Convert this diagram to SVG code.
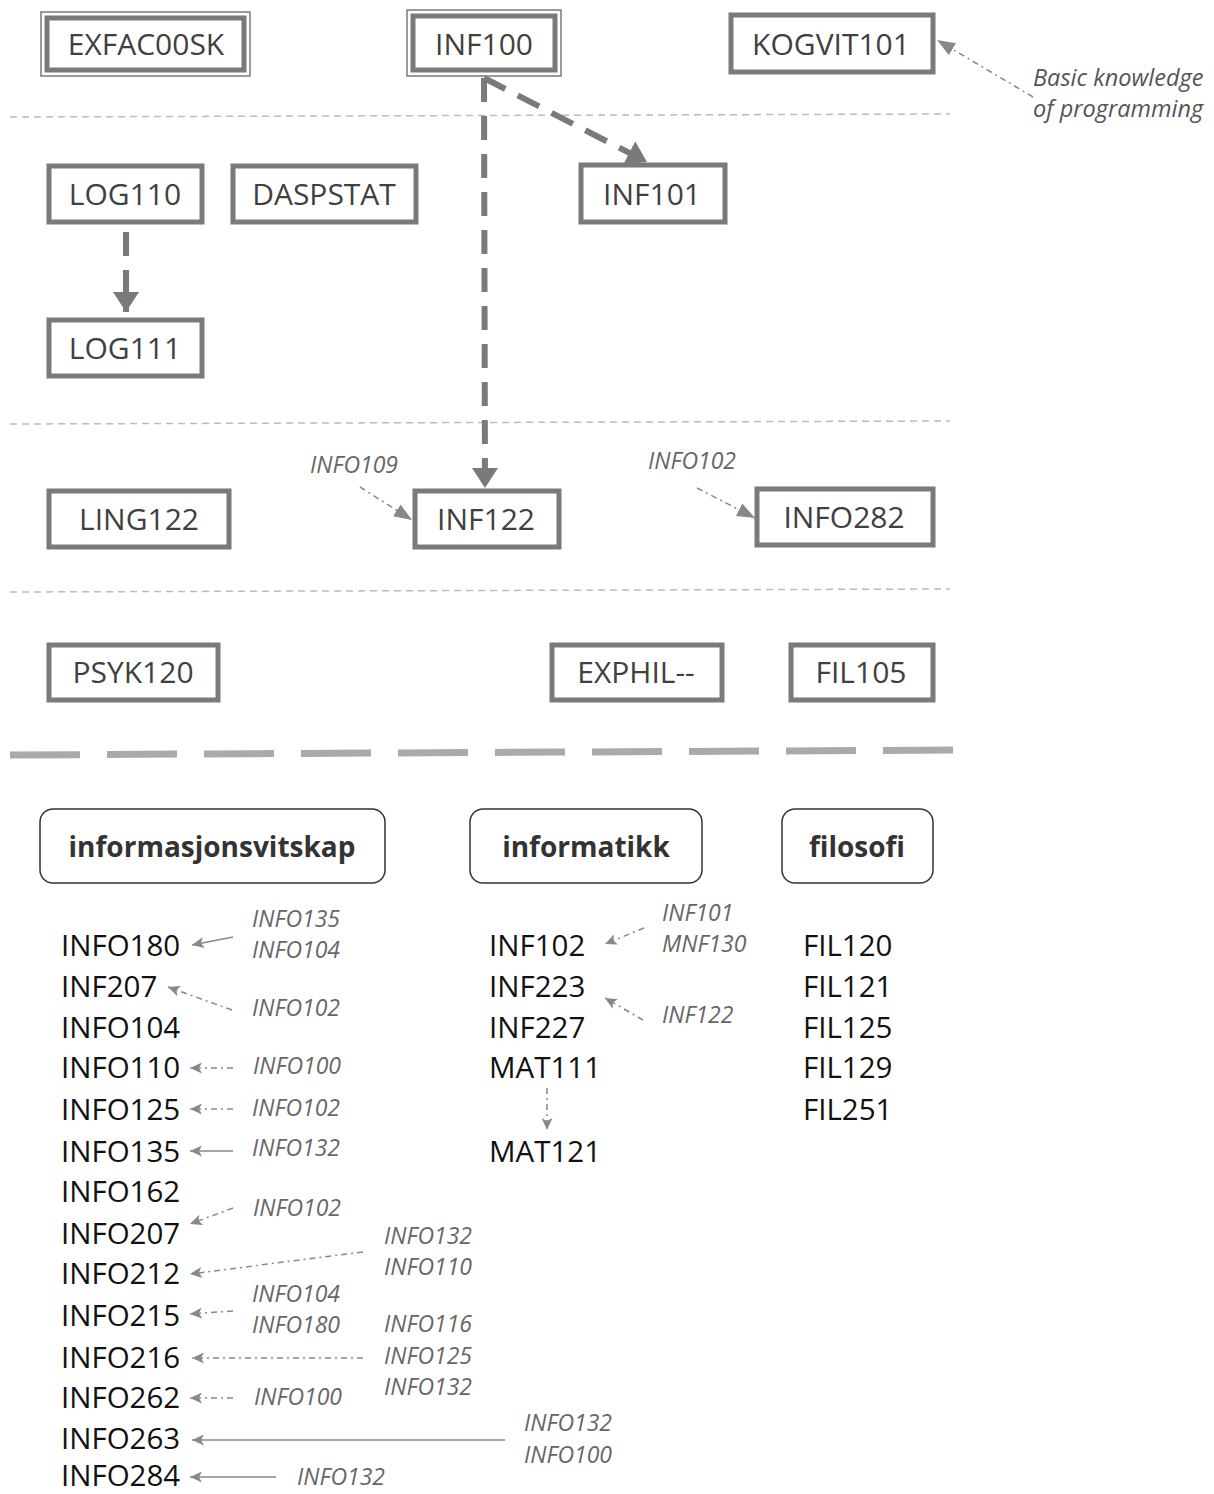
<svg xmlns="http://www.w3.org/2000/svg" width="1214" height="1494" viewBox="0 0 1214 1494">
<defs>
<style>
.box{fill:#fff;stroke:#7a7a7a;stroke-width:5}
.outer{fill:none;stroke:#7a7a7a;stroke-width:1.5}
.bt{font-family:"Open Sans","Liberation Sans",sans-serif;font-size:30px;fill:#404040;text-anchor:middle}
.cat{fill:#fff;stroke:#333;stroke-width:1.5}
.ct{font-family:"Open Sans","Liberation Sans",sans-serif;font-size:28px;font-weight:bold;fill:#333;text-anchor:middle}
.li{font-family:"Open Sans","Liberation Sans",sans-serif;font-size:29.5px;fill:#111}
.lb{font-family:"Open Sans","Liberation Sans",sans-serif;font-size:23px;font-style:italic;fill:#666}
.nb{font-family:"Open Sans","Liberation Sans",sans-serif;font-size:23.5px;font-style:italic;fill:#555}
.sep{stroke:#bbb;stroke-width:1.5;stroke-dasharray:7 5;fill:none}
.thick{stroke:#7a7a7a;stroke-width:6;fill:none;stroke-dasharray:24 14}
.dd{stroke:#888;stroke-width:1.5;fill:none;stroke-dasharray:6 4 2 4}
.sol{stroke:#888;stroke-width:1.5;fill:none}
</style>
<marker id="big" viewBox="0 0 20 26" refX="20" refY="13" markerWidth="20" markerHeight="26" markerUnits="userSpaceOnUse" orient="auto"><path d="M0,0 L20,13 L0,26 z" fill="#7a7a7a"/></marker>
<marker id="med" viewBox="0 0 18 14" refX="18" refY="7" markerWidth="18" markerHeight="14" markerUnits="userSpaceOnUse" orient="auto"><path d="M0,0 L18,7 L0,14 z" fill="#888"/></marker>
<marker id="sm" viewBox="0 0 12 11" refX="12" refY="5.5" markerWidth="12" markerHeight="11" markerUnits="userSpaceOnUse" orient="auto"><path d="M0,0 L12,5.5 L0,11 L3,5.5 z" fill="#888"/></marker>
</defs>
<rect width="1214" height="1494" fill="#fff"/>

<g id="separators">
<line class="sep" x1="10" y1="117" x2="950" y2="114"/>
<line class="sep" x1="10" y1="424" x2="950" y2="421"/>
<line class="sep" x1="10" y1="592" x2="950" y2="589"/>
<line x1="10" y1="755" x2="955" y2="750" stroke="#aaa" stroke-width="7" stroke-dasharray="70 27"/>
</g>

<g id="connectors">
<line class="thick" x1="484" y1="78" x2="485" y2="488" marker-end="url(#big)"/>
<line class="thick" x1="484" y1="78" x2="647" y2="162" marker-end="url(#big)"/>
<line class="thick" x1="126" y1="232" x2="126" y2="312" stroke-dasharray="24 32" marker-end="url(#big)"/>
<line class="dd" x1="1033" y1="97" x2="937" y2="40" marker-end="url(#med)"/>
<line class="dd" x1="360" y1="487" x2="412" y2="520" marker-end="url(#med)"/>
<line class="dd" x1="697" y1="488" x2="755" y2="518" marker-end="url(#med)"/>
<line class="sol" x1="233" y1="937" x2="192" y2="945" marker-end="url(#sm)"/>
<line class="dd" x1="232" y1="1010" x2="168" y2="987" marker-end="url(#sm)"/>
<line class="dd" x1="233" y1="1068" x2="190" y2="1068" marker-end="url(#sm)"/>
<line class="dd" x1="233" y1="1109" x2="190" y2="1109" marker-end="url(#sm)"/>
<line class="sol" x1="233" y1="1151" x2="190" y2="1151" marker-end="url(#sm)"/>
<line class="dd" x1="233" y1="1208" x2="190" y2="1224" marker-end="url(#sm)"/>
<line class="dd" x1="363" y1="1252" x2="190" y2="1274" marker-end="url(#sm)"/>
<line class="dd" x1="233" y1="1311" x2="190" y2="1314" marker-end="url(#sm)"/>
<line class="dd" x1="363" y1="1358" x2="192" y2="1358" marker-end="url(#sm)"/>
<line class="dd" x1="233" y1="1398" x2="190" y2="1398" marker-end="url(#sm)"/>
<line class="sol" x1="505" y1="1440" x2="192" y2="1440" marker-end="url(#sm)"/>
<line class="sol" x1="276" y1="1477" x2="190" y2="1477" marker-end="url(#sm)"/>
<line class="dd" x1="644" y1="928" x2="605" y2="944" marker-end="url(#sm)"/>
<line class="dd" x1="643" y1="1020" x2="605" y2="998" marker-end="url(#sm)"/>
<line class="dd" x1="547" y1="1088" x2="547" y2="1130" marker-end="url(#sm)"/>
</g>

<g id="EXFAC00SK"><rect class="outer" x="41" y="12" width="209" height="64"/><rect class="box" x="47" y="18" width="197" height="52"/><text class="bt" x="146" y="55">EXFAC00SK</text></g>
<g id="INF100"><rect class="outer" x="407" y="10" width="154" height="66"/><rect class="box" x="413" y="16" width="142" height="54"/><text class="bt" x="484" y="55">INF100</text></g>
<g id="KOGVIT101"><rect class="box" x="731" y="15" width="202" height="57"/><text class="bt" x="831" y="55">KOGVIT101</text></g>
<g id="note"><text class="nb" x="1033" y="86">Basic knowledge</text><text class="nb" x="1033" y="117">of programming</text></g>
<g id="LOG110"><rect class="box" x="49" y="166" width="153" height="56"/><text class="bt" x="125" y="205">LOG110</text></g>
<g id="DASPSTAT"><rect class="box" x="233" y="166" width="183" height="56"/><text class="bt" x="324" y="205">DASPSTAT</text></g>
<g id="INF101"><rect class="box" x="581" y="165" width="144" height="57"/><text class="bt" x="652" y="205">INF101</text></g>
<g id="LOG111"><rect class="box" x="49" y="320" width="153" height="56"/><text class="bt" x="125" y="359">LOG111</text></g>
<g id="LING122"><rect class="box" x="49" y="491" width="180" height="56"/><text class="bt" x="139" y="530">LING122</text></g>
<g id="INF122"><rect class="box" x="415" y="491" width="144" height="56"/><text class="bt" x="486" y="530">INF122</text></g>
<g id="INFO282"><rect class="box" x="757" y="489" width="176" height="56"/><text class="bt" x="844" y="528">INFO282</text></g>
<g id="PSYK120"><rect class="box" x="49" y="645" width="169" height="55"/><text class="bt" x="133" y="683">PSYK120</text></g>
<g id="EXPHIL"><rect class="box" x="552" y="645" width="170" height="55"/><text class="bt" x="636" y="683">EXPHIL--</text></g>
<g id="FIL105"><rect class="box" x="791" y="645" width="142" height="55"/><text class="bt" x="861" y="683">FIL105</text></g>
<g id="labels-top"><text class="lb" x="310" y="473">INFO109</text><text class="lb" x="648" y="469">INFO102</text></g>

<g id="cat-informasjonsvitskap"><rect class="cat" x="40" y="809" width="345" height="74" rx="13"/><text class="ct" x="212" y="857">informasjonsvitskap</text></g>
<g id="cat-informatikk"><rect class="cat" x="470" y="809" width="232" height="74" rx="13"/><text class="ct" x="586" y="857">informatikk</text></g>
<g id="cat-filosofi"><rect class="cat" x="782" y="809" width="151" height="74" rx="13"/><text class="ct" x="857" y="857">filosofi</text></g>

<g id="list-informasjonsvitskap">
<text class="li" x="61" y="956">INFO180</text>
<text class="li" x="61" y="997">INF207</text>
<text class="li" x="61" y="1038">INFO104</text>
<text class="li" x="61" y="1078">INFO110</text>
<text class="li" x="61" y="1120">INFO125</text>
<text class="li" x="61" y="1162">INFO135</text>
<text class="li" x="61" y="1202">INFO162</text>
<text class="li" x="61" y="1244">INFO207</text>
<text class="li" x="61" y="1284">INFO212</text>
<text class="li" x="61" y="1326">INFO215</text>
<text class="li" x="61" y="1368">INFO216</text>
<text class="li" x="61" y="1408">INFO262</text>
<text class="li" x="61" y="1449">INFO263</text>
<text class="li" x="61" y="1486">INFO284</text>
</g>
<g id="labels-informasjonsvitskap">
<text class="lb" x="252" y="927">INFO135</text>
<text class="lb" x="252" y="958">INFO104</text>
<text class="lb" x="252" y="1016">INFO102</text>
<text class="lb" x="253" y="1074">INFO100</text>
<text class="lb" x="252" y="1116">INFO102</text>
<text class="lb" x="252" y="1156">INFO132</text>
<text class="lb" x="253" y="1216">INFO102</text>
<text class="lb" x="384" y="1244">INFO132</text>
<text class="lb" x="384" y="1275">INFO110</text>
<text class="lb" x="252" y="1302">INFO104</text>
<text class="lb" x="252" y="1333">INFO180</text>
<text class="lb" x="384" y="1332">INFO116</text>
<text class="lb" x="384" y="1364">INFO125</text>
<text class="lb" x="384" y="1395">INFO132</text>
<text class="lb" x="254" y="1405">INFO100</text>
<text class="lb" x="524" y="1431">INFO132</text>
<text class="lb" x="524" y="1463">INFO100</text>
<text class="lb" x="297" y="1485">INFO132</text>
</g>

<g id="list-informatikk">
<text class="li" x="489" y="956">INF102</text>
<text class="li" x="489" y="997">INF223</text>
<text class="li" x="489" y="1038">INF227</text>
<text class="li" x="489" y="1078">MAT111</text>
<text class="li" x="489" y="1162">MAT121</text>
<text class="lb" x="662" y="921">INF101</text>
<text class="lb" x="662" y="952">MNF130</text>
<text class="lb" x="662" y="1023">INF122</text>
</g>

<g id="list-filosofi">
<text class="li" x="803" y="956">FIL120</text>
<text class="li" x="803" y="997">FIL121</text>
<text class="li" x="803" y="1038">FIL125</text>
<text class="li" x="803" y="1078">FIL129</text>
<text class="li" x="803" y="1120">FIL251</text>
</g>
</svg>
